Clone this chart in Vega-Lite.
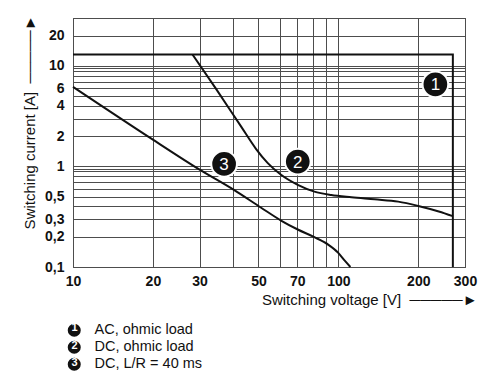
{
  "$schema": "https://vega.github.io/schema/vega-lite/v6.json",
  "autosize": {"type": "none"},
  "padding": {"left": 73, "top": 18, "right": 35, "bottom": 122},
  "width": 392,
  "height": 249,
  "background": "white",
  "config": {
    "view": {"stroke": "#333333", "strokeWidth": 1},
    "font": "Liberation Sans"
  },
  "datasets": {
    "curves": [
      {"series": "1", "i": 0, "volts": 10, "amps": 13},
      {"series": "1", "i": 1, "volts": 270, "amps": 13},
      {"series": "1", "i": 2, "volts": 270, "amps": 0.1},
      {"series": "2", "i": 0, "volts": 28.2, "amps": 13},
      {"series": "2", "i": 1, "volts": 34.5, "amps": 5.98},
      {"series": "2", "i": 2, "volts": 42.9, "amps": 2.52},
      {"series": "2", "i": 3, "volts": 48.9, "amps": 1.5},
      {"series": "2", "i": 4, "volts": 54.2, "amps": 1.08},
      {"series": "2", "i": 5, "volts": 60.8, "amps": 0.826},
      {"series": "2", "i": 6, "volts": 70.3, "amps": 0.656},
      {"series": "2", "i": 7, "volts": 81.2, "amps": 0.562},
      {"series": "2", "i": 8, "volts": 94, "amps": 0.52},
      {"series": "2", "i": 9, "volts": 112, "amps": 0.494},
      {"series": "2", "i": 10, "volts": 137, "amps": 0.471},
      {"series": "2", "i": 11, "volts": 168, "amps": 0.447},
      {"series": "2", "i": 12, "volts": 200, "amps": 0.405},
      {"series": "2", "i": 13, "volts": 239, "amps": 0.357},
      {"series": "2", "i": 14, "volts": 270, "amps": 0.321},
      {"series": "3", "i": 0, "volts": 10, "amps": 6.2},
      {"series": "3", "i": 1, "volts": 20, "amps": 1.85},
      {"series": "3", "i": 2, "volts": 30, "amps": 0.93},
      {"series": "3", "i": 3, "volts": 40.4, "amps": 0.585},
      {"series": "3", "i": 4, "volts": 51, "amps": 0.391},
      {"series": "3", "i": 5, "volts": 60.8, "amps": 0.29},
      {"series": "3", "i": 6, "volts": 70.3, "amps": 0.236},
      {"series": "3", "i": 7, "volts": 81.2, "amps": 0.198},
      {"series": "3", "i": 8, "volts": 91.5, "amps": 0.167},
      {"series": "3", "i": 9, "volts": 99.7, "amps": 0.139},
      {"series": "3", "i": 10, "volts": 105.9, "amps": 0.115},
      {"series": "3", "i": 11, "volts": 111, "amps": 0.1}
    ],
    "markers": [
      {"n": "1", "volts": 232, "amps": 6.56},
      {"n": "2", "volts": 70.3, "amps": 1.12},
      {"n": "3", "volts": 37.1, "amps": 1.06}
    ]
  },
  "encoding": {
    "x": {
      "field": "volts", "type": "quantitative",
      "scale": {"type": "log", "domain": [10, 300], "nice": false},
      "axis": {
        "values": [10, 20, 30, 40, 50, 60, 70, 80, 90, 100, 200, 300],
        "labelExpr": "indexof([10,20,30,50,70,100,200,300], datum.value) >= 0 ? toString(datum.value) : ''",
        "labelOverlap": false,
        "grid": true, "gridColor": "#4d4d4d", "gridWidth": 1,
        "ticks": false, "domain": false,
        "labelFont": "Liberation Sans", "labelFontSize": 14, "labelFontWeight": "bold", "labelColor": "#111111",
        "labelPadding": 7, "labelFlush": false,
        "title": "Switching voltage [V]\u00a0\u00a0─────►",
        "titleFont": "Liberation Sans", "titleFontSize": 15, "titleFontWeight": "normal", "titleColor": "#111111",
        "titleX": 404, "titleY": 25, "titleAlign": "right"
      }
    },
    "y": {
      "field": "amps", "type": "quantitative",
      "scale": {"type": "log", "domain": [0.1, 30], "nice": false},
      "axis": {
        "values": [0.1, 0.2, 0.3, 0.4, 0.5, 0.6, 0.7, 0.8, 0.9, 0.95, 1, 2, 3, 4, 5, 6, 7, 8, 9, 9.5, 10, 20, 30],
        "labelExpr": "indexof([0.1,0.2,0.3,0.5,1,2,4,6,10,20], datum.value) >= 0 ? replace(toString(datum.value), '.', ',') : ''",
        "labelOverlap": false,
        "grid": true, "gridColor": "#4d4d4d", "gridWidth": 1,
        "ticks": false, "domain": false,
        "labelFont": "Liberation Sans", "labelFontSize": 14, "labelFontWeight": "bold", "labelColor": "#111111",
        "labelPadding": 9, "labelFlush": false,
        "title": "Switching current [A]\u00a0\u00a0─────►",
        "titleFont": "Liberation Sans", "titleFontSize": 15, "titleFontWeight": "normal", "titleColor": "#111111",
        "titleAngle": -90, "titleX": -36, "titleY": -3, "titleAlign": "right"
      }
    }
  },
  "layer": [
    {
      "data": {"name": "curves"},
      "transform": [{"filter": "datum.series == '1'"}, {"calculate": "'n' + datum.series", "as": "tag"}],
      "mark": {"type": "line", "strokeWidth": 2, "interpolate": "linear"},
      "encoding": {
        "color": {
          "field": "series", "type": "nominal",
          "scale": {"domain": ["1", "2", "3"], "range": ["#111111", "#111111", "#111111"]},
          "legend": {
            "orient": "none", "legendX": -6, "legendY": 305, "title": null,
            "symbolType": "circle", "symbolSize": 170, "symbolFillColor": "#111111", "symbolStrokeColor": "#111111", "symbolStrokeWidth": 0, "symbolOpacity": 1,
            "labelOffset": 13, "padding": 0, "rowPadding": 2,
            "labelFont": "Liberation Sans", "labelFontSize": 14.5, "labelColor": "#111111", "labelLimit": 300,
            "labelExpr": "datum.label == '1' ? 'AC, ohmic load' : datum.label == '2' ? 'DC, ohmic load' : 'DC, L/R = 40 ms'"
          }
        },
        "strokeDash": {
          "field": "tag", "type": "nominal",
          "scale": {"domain": ["n1", "n2", "n3"], "range": [[1, 0], [1, 0], [1, 0]]},
          "legend": {
            "orient": "none", "legendX": -9.5, "legendY": 304.5, "title": null, "zindex": 2,
            "symbolSize": 0, "symbolOpacity": 0, "symbolStrokeWidth": 0,
            "labelOffset": 0, "padding": 0, "rowPadding": 5.5,
            "labelFont": "Liberation Sans", "labelFontSize": 11, "labelFontWeight": "bold", "labelColor": "white", "labelAlign": "center", "labelBaseline": "middle",
            "labelExpr": "replace(datum.label, 'n', '')"
          }
        },
        "order": {"field": "i", "type": "quantitative"}
      }
    },
    {
      "data": {"name": "curves"},
      "transform": [{"filter": "datum.series != '1'"}],
      "mark": {"type": "line", "strokeWidth": 2, "interpolate": "monotone"},
      "encoding": {
        "color": {"field": "series", "type": "nominal"},
        "order": {"field": "i", "type": "quantitative"}
      }
    },
    {
      "data": {"name": "markers"},
      "mark": {"type": "point", "filled": true, "size": 660, "fill": "#111111", "stroke": "white", "strokeWidth": 2, "opacity": 1},
      "encoding": {}
    },
    {
      "data": {"name": "markers"},
      "mark": {"type": "text", "color": "white", "fontSize": 17, "font": "Liberation Sans", "align": "center", "baseline": "middle", "dy": 1},
      "encoding": {"text": {"field": "n"}}
    }
  ]
}
